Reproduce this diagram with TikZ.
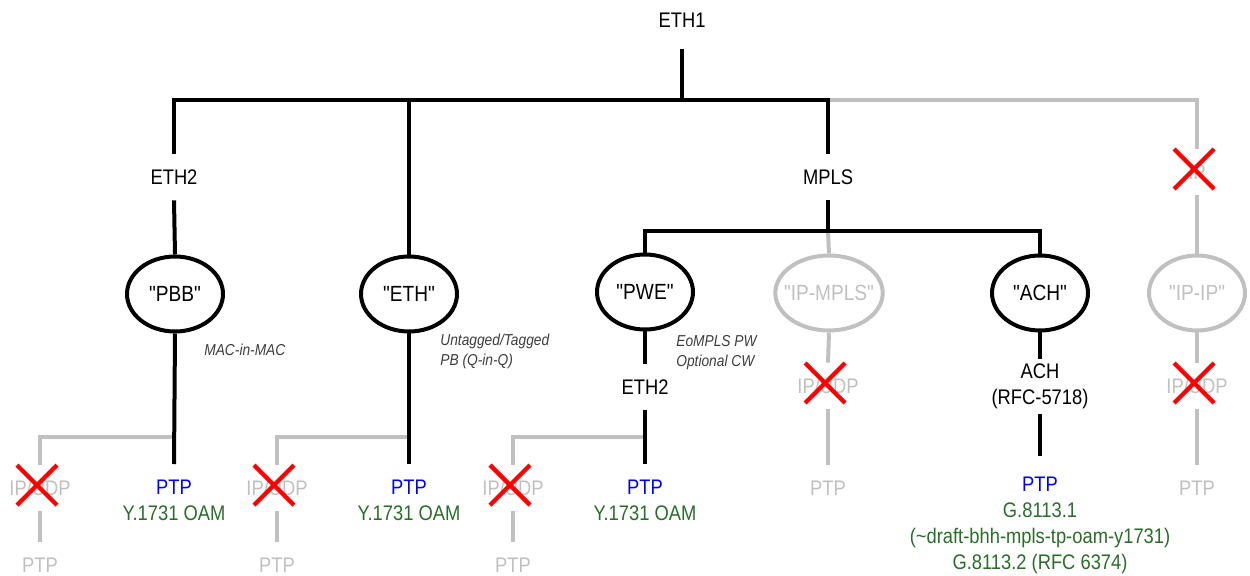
\documentclass[tikz,border=0pt]{standalone}
\usepackage{fontspec}
\setmainfont{Liberation Sans}[FakeStretch=0.87]
\newfontfamily\protofont{Liberation Sans}[FakeStretch=0.87]
\usetikzlibrary{shapes.geometric}
\definecolor{ptpblue}{RGB}{0,0,255}
\definecolor{oamgreen}{RGB}{40,110,40}
\definecolor{offgray}{RGB}{192,192,192}
\definecolor{notegray}{RGB}{60,60,60}
\tikzset{
  lbl/.style={font=\fontsize{12}{14.7}\selectfont, inner sep=1pt, outer sep=8pt, text height=8.6pt, text depth=0pt},
  stack/.style={font=\fontsize{12}{14.7}\selectfont, align=center, inner sep=1pt, outer sep=8pt, anchor=north},
  off/.style={text=offgray},
  proto/.style={ellipse, draw, line width=0.08cm, minimum width=1.92cm, minimum height=1.5cm, inner sep=0pt, text height=8.6pt, text depth=0pt, font=\protofont\fontsize{12.5}{15}\selectfont},
  offproto/.style={proto, draw=offgray, text=offgray},
  note/.style={font=\fontsize{9}{11.3}\selectfont\itshape, text=notegray, align=left, anchor=west, inner sep=0pt},
  link/.style={line width=0.08cm},
  offlink/.style={link, draw=offgray},
  xline/.style={line width=0.085cm, draw=red}
}
% red cross over a dropped protocol
\newcommand{\strikenode}[1]{\draw[xline] ([shift={(-23,-23)}]#1.center) -- ([shift={(17,17)}]#1.center)
  ([shift={(17,-23)}]#1.center) -- ([shift={(-23,17)}]#1.center);}

\begin{document}
\begin{tikzpicture}[x=0.02cm, y=-0.02cm]
  \useasboundingbox (0,0) rectangle (1250,575);
  % --- bus levels ---
  \coordinate (bus) at (0,100);
  \coordinate (mbus) at (0,231);
  \coordinate (side) at (0,437);

  % --- top levels ---
  \node[lbl, outer sep=11pt] (eth1) at (682,20) {ETH1};
  \node[lbl] (ethtwo) at (174,177) {ETH2};
  \node[lbl] (mpls) at (828,177) {MPLS};
  \node[lbl, off] (iptop) at (1197,172) {IP};

  % --- encapsulations ---
  \node[proto] (pbb) at (175,294) {"PBB"};
  \node[proto] (eth) at (409,294) {"ETH"};
  \node[proto] (pwe) at (645,292) {"PWE"};
  \node[offproto, inner xsep=-4pt] (ipmpls) at (829,293) {"IP-MPLS"};
  \node[proto] (ach) at (1040,293) {"ACH"};
  \node[offproto] (ipip) at (1197,293) {"IP-IP"};

  \node[note] (macnote) at (204,350) {MAC-in-MAC};
  \node[note] (qinqnote) at (440,351) {Untagged/Tagged\\PB (Q-in-Q)};
  \node[note] (pwnote) at (676,353) {EoMPLS PW\\Optional CW};

  % --- lower levels ---
  \node[stack] (ptpa) at (174,464) {\textcolor{ptpblue}{PTP}\\\textcolor{oamgreen}{Y.1731 OAM}};
  \node[lbl, off] (udpa) at (40,488) {IP/UDP};
  \node[lbl, off] (gptpa) at (40,565) {PTP};

  \node[stack] (ptpb) at (409,464) {\textcolor{ptpblue}{PTP}\\\textcolor{oamgreen}{Y.1731 OAM}};
  \node[lbl, off] (udpb) at (277,488) {IP/UDP};
  \node[lbl, off] (gptpb) at (277,565) {PTP};

  \node[lbl] (ethtwob) at (645,387) {ETH2};
  \node[stack] (ptpc) at (645,464) {\textcolor{ptpblue}{PTP}\\\textcolor{oamgreen}{Y.1731 OAM}};
  \node[lbl, off] (udpc) at (513,488) {IP/UDP};
  \node[lbl, off] (gptpc) at (513,565) {PTP};

  \node[lbl, off] (udpd) at (828,386) {IP/UDP};
  \node[lbl, off] (gptpd) at (828,488) {PTP};

  \node[stack, outer sep=2pt] (achtxt) at (1040,359) {ACH\\(RFC-5718)};
  \node[stack, outer sep=11pt, text=oamgreen] (ptpd) at (1040,456)
    {\textcolor{ptpblue}{PTP}\\G.8113.1\\(\textasciitilde draft-bhh-mpls-tp-oam-y1731)\\G.8113.2 (RFC 6374)};

  \node[lbl, off] (udpe) at (1197,386) {IP/UDP};
  \node[lbl, off] (gptpe) at (1197,488) {PTP};

  % --- gray (dropped) links ---
  \draw[offlink] (mpls.north |- bus) -- (iptop.north |- bus) -- (iptop.north);
  \draw[offlink] (iptop.south) -- (ipip.north);
  \draw[offlink] (mpls.south |- mbus) -- (ipmpls.north);
  \draw[offlink] (ipmpls.south) -- (udpd.north);
  \draw[offlink] (udpd.south) -- (gptpd.north);
  \draw[offlink] (ipip.south) -- (udpe.north);
  \draw[offlink] (udpe.south) -- (gptpe.north);
  \draw[offlink] (ptpa.north |- side) -- (udpa.north |- side) -- (udpa.north);
  \draw[offlink] (udpa.south) -- (gptpa.north);
  \draw[offlink] (ptpb.north |- side) -- (udpb.north |- side) -- (udpb.north);
  \draw[offlink] (udpb.south) -- (gptpb.north);
  \draw[offlink] (ptpc.north |- side) -- (udpc.north |- side) -- (udpc.north);
  \draw[offlink] (udpc.south) -- (gptpc.north);

  % --- black links ---
  \draw[link] (eth1.south) -- (eth1.south |- bus);
  \draw[link] (ethtwo.north) -- (ethtwo.north |- bus) -- (mpls.north |- bus) -- (mpls.north);
  \draw[link] (eth.north) -- (eth.north |- bus);
  \draw[link] (ethtwo.south) -- (pbb.north);
  \draw[link] (mpls.south) -- (mpls.south |- mbus);
  \draw[link] (pwe.north) -- (pwe.north |- mbus) -- (ach.north |- mbus) -- (ach.north);
  \draw[link] (pbb.south) -- (ptpa.north);
  \draw[link] (eth.south) -- (ptpb.north);
  \draw[link] (pwe.south) -- (ethtwob.north);
  \draw[link] (ethtwob.south) -- (ptpc.north);
  \draw[link] (ach.south) -- (achtxt.north);
  \draw[link] (achtxt.south) -- (ptpd.north);

  % --- crosses ---
  \strikenode{iptop}
  \strikenode{udpa}
  \strikenode{udpb}
  \strikenode{udpc}
  \strikenode{udpd}
  \strikenode{udpe}
\end{tikzpicture}
\end{document}
